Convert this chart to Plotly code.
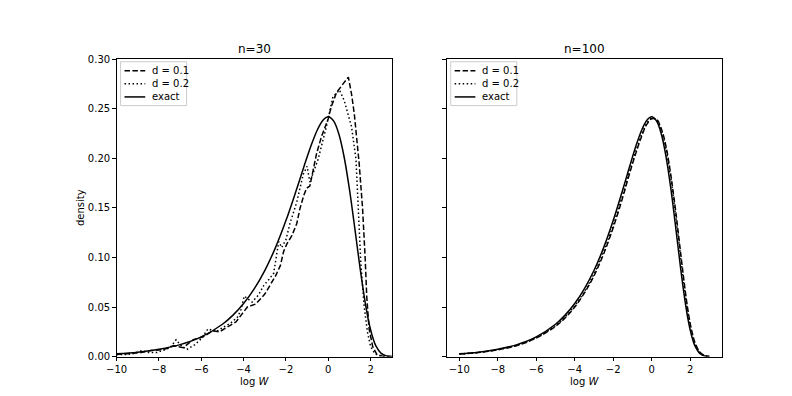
import plotly.graph_objects as go

# exact density of log W (shared grid for both panels)
x_exact = [-10, -9, -8, -7, -6, -5, -4.5, -4, -3.5, -3, -2.5, -2, -1.5, -1.25, -1, -0.75,
           -0.5, -0.25, 0, 0.25, 0.5, 0.75, 1, 1.125, 1.25, 1.375, 1.5, 1.625, 1.75, 1.875,
           2, 2.125, 2.25, 2.5, 2.75, 3]
y_exact = [0.0027, 0.0044, 0.0073, 0.0120, 0.0198, 0.0326, 0.0418, 0.0535, 0.0683, 0.0868,
           0.1097, 0.1372, 0.1686, 0.1850, 0.2013, 0.2165, 0.2294, 0.2385, 0.2420, 0.2379,
           0.2246, 0.2014, 0.1690, 0.1501, 0.1302, 0.1098, 0.0898, 0.0710, 0.0539, 0.0391,
           0.0270, 0.0176, 0.0107, 0.0032, 0.0006, 0.0001]

# n=30, d=0.1
x30_d1 = [-10, -9.64, -9.2, -8.84, -8.4, -7.78, -7.31, -6.85, -6.38, -5.91, -5.45, -5.14,
          -4.59, -4.36, -3.82, -3.43, -3.0, -2.5, -2.26, -2.11, -1.95, -1.72, -1.49, -1.33,
          -1.15, -1.02, -0.87, -0.71, -0.55, -0.32, 0.0, 0.14, 0.38, 0.69, 0.95, 1.1, 1.23,
          1.46, 1.62, 1.74, 1.82, 1.93, 2.1, 2.3, 2.6, 3.0]
y30_d1 = [0.002, 0.0024, 0.003, 0.004, 0.006, 0.007, 0.011, 0.009, 0.017, 0.020, 0.026, 0.025,
          0.032, 0.035, 0.050, 0.053, 0.063, 0.081, 0.092, 0.106, 0.114, 0.122, 0.134, 0.150,
          0.163, 0.170, 0.172, 0.189, 0.205, 0.222, 0.240, 0.252, 0.266, 0.275, 0.282, 0.265,
          0.245, 0.195, 0.150, 0.101, 0.060, 0.028, 0.010, 0.002, 0.0, 0.0]

# n=30, d=0.2
x30_d2 = [-10, -9.5, -9.2, -8.8, -8.5, -8.09, -7.47, -7.19, -7.0, -6.69, -6.3, -6.0, -5.68,
          -5.3, -5.0, -4.6, -4.28, -4.13, -3.97, -3.6, -3.3, -3.04, -2.8, -2.58, -2.34, -2.2,
          -2.0, -1.8, -1.5, -1.18, -1.0, -0.87, -0.48, -0.09, 0.22, 0.53, 0.76, 1.1, 1.31,
          1.43, 1.54, 1.7, 1.85, 2.0, 2.2, 2.5, 3.0]
y30_d2 = [0.002, 0.002, 0.003, 0.006, 0.004, 0.004, 0.009, 0.017, 0.012, 0.007, 0.012, 0.018,
          0.028, 0.025, 0.029, 0.034, 0.040, 0.047, 0.061, 0.055, 0.062, 0.072, 0.078, 0.084,
          0.116, 0.110, 0.118, 0.135, 0.155, 0.184, 0.192, 0.176, 0.199, 0.232, 0.262, 0.269,
          0.258, 0.232, 0.199, 0.150, 0.094, 0.050, 0.025, 0.010, 0.003, 0.0, 0.0]

# n=100, on the exact grid
y100_d1 = [0.0025, 0.0041, 0.0068, 0.0112, 0.0186, 0.0305, 0.0390, 0.0500, 0.0640, 0.0815,
           0.1035, 0.1300, 0.1610, 0.1780, 0.1945, 0.2095, 0.2235, 0.2345, 0.2400, 0.2395,
           0.2300, 0.2115, 0.1825, 0.1650, 0.1465, 0.1260, 0.1055, 0.0850, 0.0655, 0.0480,
           0.0335, 0.0225, 0.0140, 0.0045, 0.0010, 0.0002]
y100_d2 = [0.0026, 0.0042, 0.0070, 0.0115, 0.0190, 0.0312, 0.0400, 0.0512, 0.0655, 0.0835,
           0.1060, 0.1325, 0.1635, 0.1800, 0.1965, 0.2115, 0.2255, 0.2355, 0.2405, 0.2390,
           0.2285, 0.2085, 0.1790, 0.1610, 0.1420, 0.1215, 0.1010, 0.0805, 0.0615, 0.0445,
           0.0305, 0.0200, 0.0125, 0.0040, 0.0009, 0.0002]

labels = ["d = 0.1", "d = 0.2", "exact"]
titles = ["n=30", "n=100"]

W, H = 792, 396
FONT = "DejaVu Sans"
dashes = ["5.5px,2.4px", "1.5px,2.5px", "solid"]

ax_w = 0.775 / 2.2
left_x0 = 0.125 * W
right_x0 = (0.9 - ax_w) * W

fig = go.Figure()

panels = [
    ("x", "y", [(x30_d1, y30_d1), (x30_d2, y30_d2), (x_exact, y_exact)], "linear"),
    ("x2", "y2", [(x_exact, y100_d1), (x_exact, y100_d2), (x_exact, y_exact)], "spline"),
]
for xa, ya, series, shp in panels:
    for (xs, ys), name, dash in zip(series, labels, dashes):
        fig.add_trace(go.Scatter(
            x=xs, y=ys, mode="lines", name=name, xaxis=xa, yaxis=ya, showlegend=False,
            line=dict(color="black", width=1.5, dash=dash,
                      shape="spline" if name == "exact" else shp)))

axis_common = dict(showline=True, linecolor="black", linewidth=1, mirror=True, ticks="outside",
                   ticklen=3.5, tickwidth=0.8, tickcolor="black", showgrid=False, zeroline=False,
                   tickfont=dict(family=FONT, size=10, color="black"))
yticks = [0, 0.05, 0.1, 0.15, 0.2, 0.25, 0.3]
xticks = [-10, -8, -6, -4, -2, 0, 2]

fig.update_layout(
    width=W, height=H, margin=dict(l=0, r=0, t=0, b=0),
    paper_bgcolor="white", plot_bgcolor="white",
    font=dict(family=FONT, size=10, color="black"),
    showlegend=False,
    xaxis=dict(domain=[0.125, 0.125 + ax_w], range=[-10, 3.0], tickvals=xticks, **axis_common),
    yaxis=dict(domain=[0.11, 0.88], range=[0, 0.30], tickvals=yticks, tickformat=".2f", **axis_common),
    xaxis2=dict(domain=[0.9 - ax_w, 0.9], range=[-10.65, 3.65], tickvals=xticks, anchor="y2", **axis_common),
    yaxis2=dict(domain=[0.11, 0.88], range=[0, 0.30], tickvals=yticks, showticklabels=False,
                anchor="x2", **axis_common),
)


def px(xp, yp):
    return xp / W, 1 - yp / H


# legends drawn matplotlib-style (upper left, framed)
for x0, title in zip([left_x0, right_x0], titles):
    bx0, by0 = px(x0 + 4, 50)
    bx1, by1 = px(x0 + 71, 95)
    fig.add_shape(type="rect", xref="paper", yref="paper", x0=bx0, x1=bx1, y0=by1, y1=by0,
                  line=dict(color="#cccccc", width=1), fillcolor="white", layer="above")
    for i, (name, dash) in enumerate(zip(labels, dashes)):
        yc = 59.3 + i * 13.4
        lx0, ly = px(x0 + 8, yc)
        lx1, _ = px(x0 + 29, yc)
        fig.add_shape(type="line", xref="paper", yref="paper", x0=lx0, x1=lx1, y0=ly, y1=ly,
                      line=dict(color="black", width=1.5, dash=dash), layer="above")
        tx, _ = px(x0 + 34, yc)
        fig.add_annotation(text=name, x=tx, y=ly, xref="paper", yref="paper", xanchor="left",
                           yanchor="middle", showarrow=False,
                           font=dict(family=FONT, size=10, color="black"))
    cx = (x0 + ax_w * W / 2) / W
    fig.add_annotation(text=title, x=cx, y=1 - 37 / H, xref="paper", yref="paper",
                       xanchor="center", yanchor="middle", showarrow=False,
                       font=dict(family=FONT, size=12, color="black"))
    fig.add_annotation(text="log <i>W</i>", x=cx, y=1 - 378 / H, xref="paper", yref="paper",
                       xanchor="center", yanchor="middle", showarrow=False,
                       font=dict(family=FONT, size=10, color="black"))

fig.add_annotation(text="density", x=63 / W, y=1 - 200 / H, xref="paper", yref="paper",
                   xanchor="center", yanchor="middle", showarrow=False, textangle=-90,
                   font=dict(family=FONT, size=10, color="black"))

fig.write_html("out.html")
